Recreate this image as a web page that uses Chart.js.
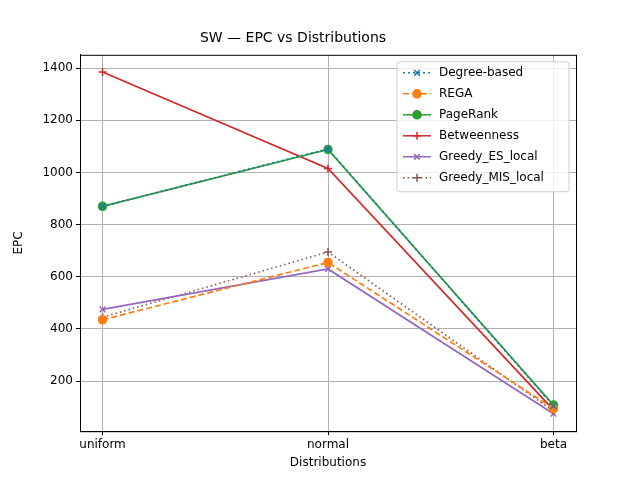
<!DOCTYPE html>
<html><head><meta charset="utf-8">
<script src="https://cdn.jsdelivr.net/npm/chart.js@4.4.0/dist/chart.umd.min.js"></script>
<style>body{margin:0;background:#fff}#wrap{width:640px;height:480px}</style>
</head><body><div id="wrap"><canvas id="c" width="640" height="480"></canvas></div>
<script>
const categories = ['uniform', 'normal', 'beta'];
const degreeBased = [870, 1090, 105];
const rega = [435, 655, 95];
const pageRank = [870, 1088, 108];
const betweenness = [1385, 1015, 90];
const greedyES = [475, 630, 75];
const greedyMIS = [445, 695, 85];
const yTicks = [200, 400, 600, 800, 1000, 1200, 1400];

function pts(arr) { return arr.map((v, i) => ({ x: i, y: v })); }
function ds(label, data, color, style, dash, radius) {
    return { label, data: pts(data), borderColor: color, backgroundColor: color,
        pointStyle: style, borderDash: dash, pointRadius: radius, pointBorderWidth: 1.5,
        borderWidth: 1.7, tension: 0 };
}

const sets = [
    ds('Degree-based', degreeBased, '#1f77b4', 'crossRot', [2, 3], 4),
    ds('REGA', rega, '#ff7f0e', 'circle', [6, 3], 4),
    ds('PageRank', pageRank, '#2ca02c', 'circle', [], 4),
    ds('Betweenness', betweenness, '#d62728', 'cross', [], 4),
    ds('Greedy_ES_local', greedyES, '#9467bd', 'crossRot', [], 4),
    ds('Greedy_MIS_local', greedyMIS, '#8c564b', 'cross', [1.5, 3], 4)
];

const font = { family: 'DejaVu Sans', size: 12 };

const legendBox = {
    id: 'legendBox',
    afterDraw(chart) {
        const c = chart.ctx, a = chart.chartArea;
        c.save();
        c.strokeStyle = '#000'; c.lineWidth = 1;
        c.strokeRect(a.left + 0.5, a.top + 0.5, a.right - a.left, a.bottom - a.top);
        const w = 172, h = 130, x = a.right - w - 7, y = a.top + 7;
        c.fillStyle = 'rgba(255,255,255,0.8)';
        c.strokeStyle = '#ccc';
        c.beginPath(); c.roundRect(x, y, w, h, 3); c.fill(); c.stroke();
        c.font = '12px DejaVu Sans';
        c.textBaseline = 'middle';
        sets.forEach((d, i) => {
            const ly = y + 11 + i * 21;
            c.strokeStyle = d.borderColor; c.lineWidth = 1.5;
            c.setLineDash(d.borderDash);
            c.beginPath(); c.moveTo(x + 6, ly); c.lineTo(x + 34, ly); c.stroke();
            c.setLineDash([]);
            Chart.helpers.drawPoint(c, { pointStyle: d.pointStyle, radius: 4, borderWidth: 1.5 }, x + 20, ly);
            if (d.pointStyle === 'circle') { c.fillStyle = d.borderColor; c.beginPath(); c.arc(x + 20, ly, 4, 0, 7); c.fill(); }
            c.fillStyle = '#000';
            c.fillText(d.label, x + 42, ly);
        });
        c.restore();
    }
};

new Chart(document.getElementById('c'), {
    type: 'line',
    data: { datasets: sets },
    plugins: [legendBox],
    options: {
        responsive: false, animation: false,
        layout: { padding: { top: 10, right: 64, bottom: 8, left: 10 } },
        plugins: {
            legend: { display: false },
            tooltip: { enabled: false },
            title: { display: true, text: 'SW — EPC vs Distributions', color: '#000',
                font: { family: 'DejaVu Sans', size: 14, weight: 'normal' }, padding: { top: 20, bottom: 8 } }
        },
        scales: {
            x: {
                type: 'linear', min: -0.1, max: 2.1,
                afterBuildTicks: s => { s.ticks = [0, 1, 2].map(v => ({ value: v })); },
                ticks: { color: '#000', font, padding: 2, callback: v => categories[v] },
                grid: { color: '#b0b0b0', drawTicks: true, tickColor: '#000', tickLength: 4 },
                border: { color: '#000' },
                title: { display: true, text: 'Distributions', color: '#000', font, padding: 2 }
            },
            y: {
                min: 8, max: 1451,
                afterBuildTicks: s => { s.ticks = yTicks.map(v => ({ value: v })); },
                afterFit: s => { s.width = 70; },
                ticks: { color: '#000', font, callback: v => String(v) },
                grid: { color: '#b0b0b0', tickColor: '#000', tickLength: 4 },
                border: { color: '#000' },
                title: { display: true, text: 'EPC', color: '#000', font, padding: 2 }
            }
        }
    }
});
</script></body></html>
